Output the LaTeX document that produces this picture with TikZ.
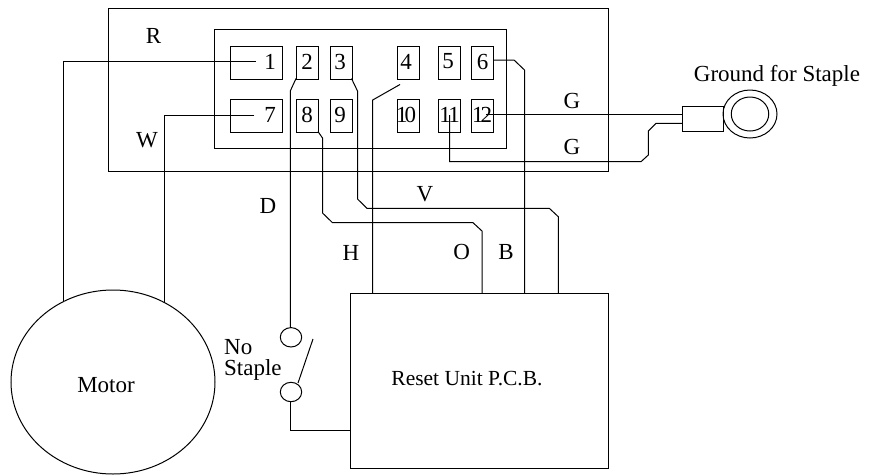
\documentclass[tikz,border=0pt]{standalone}
\usepackage{fontspec}
\usetikzlibrary{shapes.geometric}
\setmainfont{Liberation Serif}
\tikzset{
  lbl/.style={inner sep=0pt,font=\fontsize{23}{25}\selectfont},
  term/.style={draw,inner sep=0pt,anchor=north west},
  wire/.style={draw,line width=1pt},
  frame/.style={draw,line width=1pt,inner sep=0pt,anchor=north west}
}
\newcommand{\boxat}[6]{\node[term,line width=1pt,minimum width=#4 pt,minimum height=#5 pt] (#1) at (#2,#3) {};\node[lbl] (#1t) at (#6) {\csname lab#1\endcsname};}
\begin{document}
\begin{tikzpicture}[x=1pt,y=-1pt]
\useasboundingbox (0,0) rectangle (870,475);
\node[frame,minimum width=500pt,minimum height=163pt] (outer) at (108,8) {};
\node[frame,minimum width=292pt,minimum height=119pt] (inner) at (214,28.7) {};
\def\labbi{1}\def\labbb{2}\def\labbc{3}\def\labbd{4}\def\labbe{5}\def\labbf{6}
\def\labbg{7}\def\labbh{8}\def\labbj{9}\def\labbk{1\kern-3pt 0}\def\labbl{1\kern-2.5pt 1}\def\labbm{1\kern-3pt 2}
\boxat{bi}{230}{45.5}{52}{33}{270,61.5}
\boxat{bb}{296}{45.5}{22}{33}{307,61.5}
\boxat{bc}{329.5}{45.5}{22}{33}{340,61.5}
\boxat{bd}{396.5}{45.5}{22}{33}{406,61.5}
\boxat{be}{437.5}{45.5}{22}{33}{448,61.5}
\boxat{bf}{471}{45.5}{22}{33}{482.5,61.5}
\boxat{bg}{230}{98.5}{52}{33}{270,115}
\boxat{bh}{296}{98.5}{22}{33}{307,115}
\boxat{bj}{329.5}{98.5}{22}{33}{340,115}
\boxat{bk}{396.5}{98.5}{22}{33}{406,115}
\boxat{bl}{437.5}{98.5}{22}{33}{449.5,115}
\boxat{bm}{471}{98.5}{22}{33}{482,115}
% ground lug
\node[frame,minimum width=40.5pt,minimum height=25pt] (lug) at (682.3,106) {};
\node[draw,ellipse,line width=1pt,minimum width=54pt,minimum height=48pt,inner sep=0pt] (ringo) at (750,114) {};
\node[draw,ellipse,line width=1pt,minimum width=37.5pt,minimum height=34pt,inner sep=0pt] (ringi) at (750,114) {};
% large parts
\node[frame,minimum width=258pt,minimum height=175pt] (reset) at (350.3,293.3) {};
\node[draw,ellipse,line width=1pt,minimum width=204pt,minimum height=184pt,inner sep=0pt] (motor) at (113,382) {};
\node[draw,ellipse,line width=1pt,minimum width=21.4pt,minimum height=19.4pt,inner sep=0pt] (swa) at (291,337.3) {};
\node[draw,ellipse,line width=1pt,minimum width=21.4pt,minimum height=19.4pt,inner sep=0pt] (swb) at (291,392) {};
% free ends
\coordinate (w1) at (255.7,61.7);
\coordinate (w7) at (254.3,115);
\coordinate (w4) at (400,84.5);
\coordinate (w12) at (486,114.7);
\coordinate (w11) at (449.7,115);
\coordinate (sw1) at (313,339);
\coordinate (sw2) at (298,383);
% wires
\draw[wire] (w1) -- (63.3,61.7) -- (63.3,302);
\draw[wire] (w7) -- (164.3,115) -- (164.3,302);
\draw[wire] (296,78.5) -- (290.3,91) -- (290.3,327.6);
\draw[wire] (351.5,78.5) -- (357.5,91) -- (357.5,199) -- (367,208.3) -- (549.3,208.3) -- (558.3,216.7) -- (558.3,293.3);
\draw[wire] (318,131.5) -- (322.5,138) -- (322.5,213) -- (332.5,222.7) -- (473,222.7) -- (482,231) -- (482,293.3);
\draw[wire] (w4) -- (372.7,100) -- (372.7,293.3);
\draw[wire] (493,60) -- (514,60) -- (524.5,70) -- (524.5,293.3);
\draw[wire] (w12) -- (682.3,114.7);
\draw[wire] (w11) -- (449.7,161.7) -- (641,161.7) -- (648.3,155) -- (648.3,131) -- (656,123.3) -- (682.3,123.3);
\draw[wire] (290.3,401.7) -- (290.3,430.7) -- (350.3,430.7);
\draw[wire] (sw1) -- (sw2);
% labels
\node[lbl] (lR) at (153.5,36) {R};
\node[lbl] (lW) at (147,140) {W};
\node[lbl] (lG1) at (572,101) {G};
\node[lbl] (lG2) at (572,147) {G};
\node[lbl] (lV) at (425,194) {V};
\node[lbl] (lD) at (268,206) {D};
\node[lbl] (lH) at (351,253) {H};
\node[lbl] (lO) at (461.7,252) {O};
\node[lbl] (lB) at (506,252) {B};
\node[lbl] (lM) at (106,385) {Motor};
\node[lbl,font=\fontsize{23}{21}\selectfont,align=left,anchor=west] (lN) at (224,359.5) {No\\Staple};
\node[lbl,font=\fontsize{21.5}{24}\selectfont] (lP) at (467,379) {Reset Unit P.C.B.};
\node[lbl] (lGS) at (777,76) {Ground for Staple};
\end{tikzpicture}
\end{document}
